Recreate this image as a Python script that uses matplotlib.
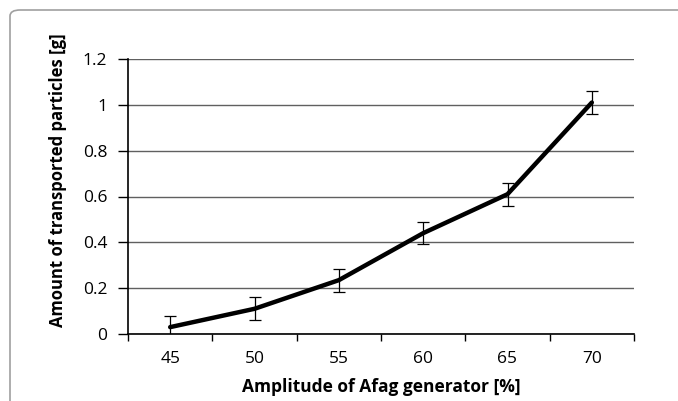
import matplotlib.pyplot as plt
from matplotlib.patches import FancyBboxPatch
from matplotlib.ticker import FixedLocator, FuncFormatter

# data
amplitude = ['45', '50', '55', '60', '65', '70']
mass = [0.03, 0.11, 0.235, 0.44, 0.61, 1.01]
mass_err = [0.05, 0.05, 0.05, 0.047, 0.05, 0.05]
y_ticks = [0, 0.2, 0.4, 0.6, 0.8, 1.0, 1.2]

plt.rcParams['font.family'] = ['Open Sans', 'DejaVu Sans']

fig = plt.figure(figsize=(6.78, 4.01), dpi=100)

# rounded frame around the whole chart
frame = FancyBboxPatch((10 / 678, -0.2), 1.2, (391 / 401) + 0.2,
                       boxstyle='round,pad=0,rounding_size=0.015',
                       transform=fig.transFigure, facecolor='none',
                       edgecolor='#a0a0a0', linewidth=1.2)
fig.patches.append(frame)

ax = fig.add_axes([128 / 678, 67 / 401, 506 / 678, 275 / 401])

x = list(range(len(amplitude)))
ax.plot(x, mass, color='black', linewidth=3.2, solid_capstyle='round', zorder=3)
ax.errorbar(x, mass, yerr=mass_err, fmt='none', ecolor='black',
            elinewidth=0.9, capsize=4, capthick=0.9, zorder=4)

ax.set_xlim(-0.5, len(amplitude) - 0.5)
ax.set_ylim(0, 1.2)
ax.set_xticks(x)
ax.set_xticklabels(amplitude)
ax.xaxis.set_minor_locator(FixedLocator([i - 0.5 for i in range(len(amplitude) + 1)]))
ax.tick_params(axis='x', which='major', length=0, pad=12, labelsize=12.5)
ax.tick_params(axis='x', which='minor', length=5, width=1, direction='out')
ax.set_yticks(y_ticks)
ax.yaxis.set_major_formatter(FuncFormatter(lambda v, p: f'{v:g}'))
ax.tick_params(axis='y', length=7, width=1, direction='out', pad=8, labelsize=12.5)

ax.yaxis.grid(True, color='#606060', linewidth=1)
ax.set_axisbelow(True)
for side in ['top', 'right']:
    ax.spines[side].set_visible(False)
for side in ['left', 'bottom']:
    ax.spines[side].set_linewidth(1.2)

ax.set_xlabel('Amplitude of Afag generator [%]', fontsize=12.5, fontweight='bold', labelpad=8)
ax.set_ylabel('Amount of transported particles [g]', fontsize=12, fontweight='bold')
ax.yaxis.set_label_coords(-0.12, 0.56)

fig.savefig('out.png', dpi=100)
